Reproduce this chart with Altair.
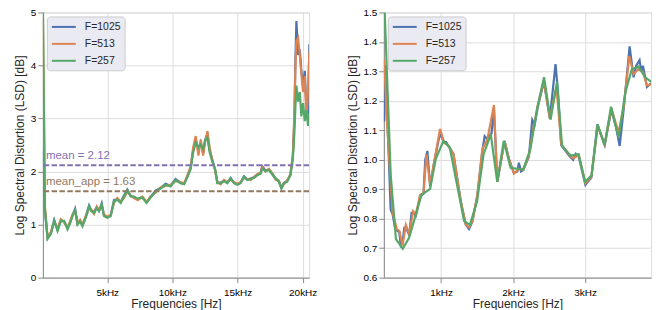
import altair as alt
import pandas as pd

SERIES = ["F=1025", "F=513", "F=257"]
COLORS = ["#4c72b0", "#dd8452", "#55a868"]
FONT = "Liberation Sans"
TEXT_COLOR = "#262626"
Y_TITLE = "Log Spectral Distortion (LSD) [dB]"
X_TITLE = "Frequencies [Hz]"

# ---------------- left panel (full band) ----------------
LEFT_FREQ = [60, 214, 421, 673, 926, 1186, 1438, 1691, 1951, 2150,
             2334, 2533, 2716, 2915, 3099, 3351, 3604, 3787, 3986, 4193,
             4369, 4575, 4751, 5011, 5264, 5516, 5777, 6029, 6282, 6542,
             6794, 7047, 7353, 7689, 8018, 8324, 8707, 9089, 9472, 9855,
             10237, 10620, 10903, 11155, 11408, 11591, 11790, 11997, 12173, 12357,
             12510, 12686, 12862, 13068, 13275, 13451, 13703, 13963, 14216, 14468,
             14729, 14981, 15234, 15494, 15746, 15999, 16259, 16511, 16764, 16894,
             17146, 17406, 17659, 17911, 18171, 18370, 18554, 18806, 19059, 19243,
             19365, 19442, 19518, 19648, 19778, 19901, 20031, 20161, 20283, 20413,
             20513]

LEFT_F1025 = [2.40, 1.25, 0.75, 0.84, 1.09, 0.90, 1.08, 1.06, 0.93, 1.04,
              1.18, 1.30, 1.02, 1.07, 0.99, 1.15, 1.36, 1.26, 1.24, 1.33,
              1.26, 1.40, 1.17, 1.14, 1.17, 1.46, 1.48, 1.42, 1.55, 1.66,
              1.54, 1.52, 1.48, 1.52, 1.42, 1.52, 1.64, 1.69, 1.77, 1.73,
              1.86, 1.79, 1.77, 1.91, 2.08, 2.40, 2.60, 2.42, 2.55, 2.35,
              2.60, 2.70, 2.40, 2.22, 2.04, 1.79, 1.79, 1.83, 1.79, 1.88,
              1.79, 1.76, 1.79, 1.91, 1.85, 1.87, 1.89, 1.94, 1.97, 2.10,
              2.02, 2.04, 1.96, 1.88, 1.82, 1.69, 1.79, 1.82, 1.94, 2.28,
              3.00, 4.10, 4.84, 4.20, 4.30, 3.90, 3.60, 3.90, 3.20, 3.00,
              4.40]

LEFT_F513 = [4.90, 1.35, 0.76, 0.86, 1.05, 0.93, 1.10, 1.04, 0.95, 1.06,
             1.19, 1.25, 1.03, 1.09, 1.00, 1.16, 1.30, 1.28, 1.20, 1.34,
             1.27, 1.35, 1.19, 1.15, 1.18, 1.41, 1.50, 1.43, 1.50, 1.62,
             1.55, 1.50, 1.46, 1.53, 1.43, 1.53, 1.60, 1.70, 1.73, 1.75,
             1.82, 1.80, 1.78, 1.93, 2.10, 2.45, 2.67, 2.30, 2.60, 2.30,
             2.55, 2.76, 2.45, 2.20, 2.02, 1.80, 1.76, 1.84, 1.80, 1.85,
             1.80, 1.77, 1.80, 1.88, 1.86, 1.84, 1.90, 1.95, 1.98, 2.08,
             2.00, 2.05, 1.97, 1.85, 1.83, 1.70, 1.76, 1.83, 1.95, 2.30,
             3.10, 4.00, 4.45, 4.52, 4.20, 3.84, 3.50, 3.80, 3.00, 3.55,
             4.27]

LEFT_F257 = [5.30, 1.31, 0.73, 0.82, 1.07, 0.88, 1.07, 1.07, 0.91, 1.03,
             1.16, 1.28, 1.00, 1.06, 0.97, 1.13, 1.34, 1.25, 1.22, 1.31,
             1.25, 1.38, 1.16, 1.13, 1.16, 1.44, 1.47, 1.41, 1.53, 1.65,
             1.53, 1.53, 1.49, 1.51, 1.41, 1.51, 1.62, 1.68, 1.75, 1.72,
             1.84, 1.78, 1.76, 1.90, 2.05, 2.36, 2.55, 2.45, 2.51, 2.42,
             2.58, 2.64, 2.36, 2.18, 2.05, 1.78, 1.78, 1.82, 1.78, 1.87,
             1.78, 1.75, 1.78, 1.90, 1.84, 1.86, 1.88, 1.93, 1.96, 2.05,
             2.01, 2.03, 1.95, 1.87, 1.81, 1.68, 1.78, 1.81, 1.93, 2.24,
             2.73, 3.22, 3.62, 3.32, 3.50, 3.04, 3.29, 2.95, 3.16, 2.86,
             3.10]

MEAN_LABELS = ["mean = 2.12", "mean_app = 1.63"]
MEAN_VALUES = [2.12, 1.63]
MEAN_COLORS = ["#8172b3", "#937860"]

LEFT_X_DOMAIN = [60, 20490]
LEFT_Y_DOMAIN = [0, 5]
LEFT_X_TICKS = [5000, 10000, 15000, 20000]
LEFT_Y_TICKS = [0, 1, 2, 3, 4, 5]

# ---------------- right panel (zoom 0.2 - 3.9 kHz) ----------------
RIGHT_FREQ_1025 = [210, 235, 260, 300, 327, 360, 386, 419, 440, 465,
                   490, 511, 557, 590, 612, 650, 709, 756, 780, 810,
                   848, 903, 960, 986, 1042, 1070, 1097, 1172, 1273, 1342,
                   1388, 1435, 1504, 1573, 1605, 1643, 1700, 1734, 1781, 1882,
                   1942, 2011, 2060, 2080, 2110, 2141, 2219, 2266, 2300, 2344,
                   2427, 2510, 2589, 2620, 2668, 2773, 2834, 2870, 2911, 3004,
                   3087, 3170, 3272, 3364, 3430, 3480, 3535, 3618, 3673, 3710,
                   3756, 3780, 3803, 3859, 3918]
RIGHT_F1025 = [1.13, 1.32, 1.10, 0.83, 0.815, 0.77, 0.76, 0.755, 0.71, 0.72,
               0.77, 0.77, 0.745, 0.82, 0.82, 0.81, 0.875, 0.885, 1.00, 1.03,
               0.91, 0.99, 1.06, 1.09, 1.058, 1.06, 1.049, 1.02, 0.86, 0.78,
               0.765, 0.79, 0.88, 1.03, 1.08, 1.07, 1.09, 1.17, 0.925, 1.064,
               1.003, 0.955, 0.96, 0.99, 0.96, 0.965, 1.01, 1.136, 1.12, 1.18,
               1.265, 1.14, 1.325, 1.24, 1.05, 1.015, 1.00, 1.02, 1.01, 0.915,
               0.94, 1.12, 1.05, 1.17, 1.11, 1.047, 1.17, 1.385, 1.28, 1.319,
               1.338, 1.30, 1.319, 1.247, 1.26]

RIGHT_FREQ_513 = [210, 250, 327, 386, 419, 465, 511, 557, 612, 650,
                  709, 756, 797, 848, 903, 986, 1042, 1097, 1172, 1273,
                  1342, 1388, 1435, 1504, 1573, 1643, 1734, 1781, 1882, 1942,
                  2011, 2080, 2141, 2219, 2280, 2344, 2427, 2510, 2602, 2668,
                  2773, 2834, 2911, 3004, 3087, 3175, 3272, 3364, 3465, 3535,
                  3614, 3673, 3742, 3803, 3859, 3918]
RIGHT_F513 = [1.34, 1.12, 0.820, 0.764, 0.759, 0.709, 0.779, 0.748, 0.825, 0.814,
              0.881, 0.886, 1.019, 0.914, 0.992, 1.105, 1.058, 1.049, 1.019, 0.859,
              0.781, 0.770, 0.792, 0.881, 1.036, 1.069, 1.186, 0.925, 1.064, 1.003,
              0.953, 0.969, 0.967, 1.014, 1.103, 1.186, 1.269, 1.141, 1.247, 1.053,
              1.019, 1.005, 1.016, 0.920, 0.942, 1.114, 1.053, 1.175, 1.092, 1.180,
              1.352, 1.291, 1.308, 1.297, 1.252, 1.256]

RIGHT_FREQ_257 = [210, 300, 373, 469, 557, 728, 848, 927, 1033, 1120,
                  1320, 1400, 1500, 1590, 1690, 1780, 1870, 1965, 2140, 2240,
                  2335, 2430, 2520, 2610, 2680, 2800, 2910, 3000, 3090, 3175,
                  3270, 3360, 3465, 3560, 3650, 3740, 3835, 3920]
RIGHT_F257 = [1.55, 0.95, 0.731, 0.698, 0.736, 0.881, 0.901, 1.003, 1.064, 1.042,
              0.792, 0.779, 0.859, 1.019, 1.086, 0.925, 1.064, 0.973, 0.967, 1.036,
              1.175, 1.280, 1.136, 1.264, 1.047, 1.014, 1.019, 0.925, 0.947, 1.119,
              1.049, 1.180, 1.075, 1.230, 1.308, 1.316, 1.280, 1.264]

RIGHT_X_DOMAIN = [205, 3915]
RIGHT_Y_DOMAIN = [0.6, 1.5]
RIGHT_X_TICKS = [1000, 2000, 3000]
RIGHT_Y_TICKS = [0.6, 0.7, 0.8, 0.9, 1.0, 1.1, 1.2, 1.3, 1.4, 1.5]


def long_table(parts):
    rows = []
    for name, freqs, vals in parts:
        for f, v in zip(freqs, vals):
            rows.append({"series": name, "freq": f, "lsd": v})
    return pd.DataFrame(rows)


left_df = long_table([
    (SERIES[0], LEFT_FREQ, LEFT_F1025),
    (SERIES[1], LEFT_FREQ, LEFT_F513),
    (SERIES[2], LEFT_FREQ, LEFT_F257),
])
right_df = long_table([
    (SERIES[0], RIGHT_FREQ_1025, RIGHT_F1025),
    (SERIES[1], RIGHT_FREQ_513, RIGHT_F513),
    (SERIES[2], RIGHT_FREQ_257, RIGHT_F257),
])

PLOT_W = 267
PLOT_H = 266


def legend():
    return alt.Legend(
        title=None, orient="top-left", offset=4, padding=4,
        fillColor="#EAEAF2", strokeColor="#cccccc", cornerRadius=3,
        symbolType="M-1,0L3.36,0", symbolStrokeWidth=2, symbolSize=121,
        labelFont=FONT, labelFontSize=10.5, labelColor=TEXT_COLOR,
        rowPadding=5, labelOffset=21,
    )


def axis_common():
    return dict(titleFontWeight="normal", titleFont=FONT, titleFontSize=12, titleColor=TEXT_COLOR)


def lines(df, xdom, ydom, xticks, yticks, yfmt):
    return alt.Chart(df).mark_line(strokeWidth=2.2, clip=True).encode(
        x=alt.X("freq:Q", scale=alt.Scale(domain=xdom, nice=False, zero=False),
                axis=alt.Axis(title=X_TITLE, values=xticks, titlePadding=1, labelPadding=5,
                              labelExpr="(datum.value / 1000) + 'kHz'", **axis_common())),
        y=alt.Y("lsd:Q", scale=alt.Scale(domain=ydom, nice=False, zero=False),
                axis=alt.Axis(title=Y_TITLE, values=yticks, format=yfmt, **axis_common())),
        color=alt.Color("series:N", sort=SERIES,
                        scale=alt.Scale(domain=SERIES, range=COLORS),
                        legend=legend()),
    )


left_layers = [lines(left_df, LEFT_X_DOMAIN, LEFT_Y_DOMAIN, LEFT_X_TICKS, LEFT_Y_TICKS, "d")]
for lab, val, col in zip(MEAN_LABELS, MEAN_VALUES, MEAN_COLORS):
    mdf = pd.DataFrame({"label": [lab], "val": [val]})
    left_layers.append(
        alt.Chart(mdf).mark_rule(strokeDash=[5.5, 2.4], strokeWidth=2, color=col).encode(y="val:Q")
    )
    left_layers.append(
        alt.Chart(mdf).mark_text(
            align="left", baseline="bottom", dx=3, dy=-4, fontSize=11.5, font=FONT, color=col
        ).encode(x=alt.value(0), y="val:Q", text="label:N")
    )

left = alt.layer(*left_layers).properties(width=PLOT_W, height=PLOT_H)

right = lines(right_df, RIGHT_X_DOMAIN, RIGHT_Y_DOMAIN, RIGHT_X_TICKS, RIGHT_Y_TICKS, ".1f").properties(
    width=PLOT_W + 1, height=PLOT_H
)

chart = alt.hconcat(left, right, spacing=27).resolve_legend(color="independent").properties(
    padding={"left": 4, "top": -2, "right": 0, "bottom": 0}
).configure_view(
    fill="#EAEAF2", stroke="transparent"
).configure_axis(
    grid=True, gridColor="#ffffff", gridWidth=1.2,
    domain=False, ticks=False, tickSize=0,
    labelFont=FONT, labelFontSize=10, labelColor=TEXT_COLOR, labelPadding=6,
    titleFont=FONT, titleFontSize=12, titleFontWeight="normal", titleColor=TEXT_COLOR,
    titlePadding=5,
).configure(background="#ffffff")

chart.save("out.html", embed_options={"renderer": "svg", "actions": False})
